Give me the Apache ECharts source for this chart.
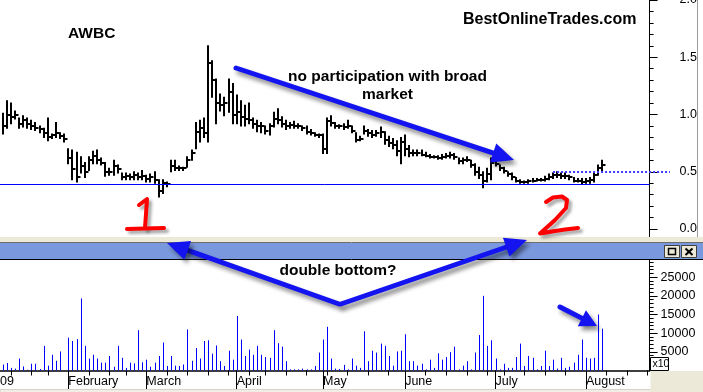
<!DOCTYPE html>
<html><head><meta charset="utf-8">
<script src="https://cdn.jsdelivr.net/npm/echarts@6/dist/echarts.min.js"></script>
<style>html,body{margin:0;padding:0;background:#fff;overflow:hidden}#c{width:703px;height:392px}</style>
</head><body><div id="c"></div>
<script>
const FONT = "'Liberation Sans', Arial, Helvetica, sans-serif";

// trading days of 2009 shown on the axis (Jan .. Aug)
const monthDays = [
  [2,5,6,7,8,9,12,13,14,15,16,20,21,22,23,26,27,28,29,30],
  [2,3,4,5,6,9,10,11,12,13,17,18,19,20,23,24,25,26,27],
  [2,3,4,5,6,9,10,11,12,13,16,17,18,19,20,23,24,25,26,27,30,31],
  [1,2,3,6,7,8,9,13,14,15,16,17,20,21,22,23,24,27,28,29,30],
  [1,4,5,6,7,8,11,12,13,14,15,18,19,20,21,22,26,27,28,29],
  [1,2,3,4,5,8,9,10,11,12,15,16,17,18,19,22,23,24,25,26,29,30],
  [1,2,6,7,8,9,10,13,14,15,16,17,20,21,22,23,24,27,28,29,30,31],
  [3,4,5,6,7,10,11,12,13,14,17,18,19,20,21,24]
];
const monthLabels = ['2009','February','March','April','May','June','July','August'];

const highs = [null,null,null,null,
 1.01,1.12,1.10,1.03,0.97,0.99,0.97,0.95,0.93,0.90,
 0.88,0.97,0.83,0.93,0.84,0.83,0.70,0.69,0.67,0.63,
 0.58,0.63,0.68,0.69,0.62,0.58,0.53,0.60,0.56,0.49,
 0.49,0.48,0.50,0.49,0.51,0.47,0.48,0.50,0.43,0.43,
 0.41,0.60,0.60,0.55,0.54,0.63,0.69,0.93,0.95,0.97,
 1.60,1.47,1.31,1.18,1.15,1.31,1.27,1.17,1.12,1.08,
 1.10,0.97,0.95,0.93,0.90,0.92,1.02,1.05,0.98,0.95,
 0.93,0.94,0.92,0.90,0.90,0.87,0.84,0.83,0.83,0.97,
 0.99,0.93,0.91,0.92,0.95,0.90,0.84,0.81,0.90,0.87,
 0.86,0.86,0.89,0.85,0.81,0.79,0.77,0.80,0.82,0.73,
 0.69,0.69,0.69,0.67,0.65,0.64,0.64,0.65,0.66,0.67,
 0.66,0.62,0.62,0.63,0.60,0.57,0.54,0.50,0.53,0.62,
 0.60,0.56,0.54,0.50,0.49,0.45,0.43,0.42,0.43,0.44,
 0.44,0.44,0.46,0.48,0.49,0.50,0.49,0.49,0.47,0.45,
 0.44,0.44,0.44,0.45,0.49,0.56,0.60];
const lows = [null,null,null,null,
 0.83,0.88,0.92,0.96,0.88,0.89,0.88,0.87,0.86,0.84,
 0.80,0.77,0.79,0.80,0.79,0.76,0.57,0.43,0.41,0.49,
 0.45,0.51,0.57,0.57,0.56,0.46,0.47,0.47,0.49,0.43,
 0.43,0.43,0.43,0.43,0.43,0.41,0.41,0.40,0.28,0.31,
 0.37,0.50,0.51,0.51,0.51,0.54,0.60,0.70,0.76,0.80,
 0.76,1.15,0.92,1.03,0.99,1.02,0.92,0.92,0.90,0.90,
 0.92,0.88,0.85,0.84,0.83,0.82,0.89,0.92,0.89,0.87,
 0.88,0.88,0.88,0.86,0.83,0.82,0.81,0.80,0.66,0.66,
 0.90,0.88,0.88,0.87,0.88,0.84,0.76,0.77,0.83,0.81,
 0.80,0.81,0.80,0.74,0.72,0.70,0.64,0.57,0.64,0.63,
 0.64,0.64,0.64,0.63,0.62,0.62,0.61,0.61,0.62,0.62,
 0.61,0.57,0.57,0.59,0.54,0.47,0.44,0.36,0.41,0.43,
 0.55,0.51,0.49,0.46,0.43,0.41,0.40,0.40,0.40,0.41,
 0.42,0.42,0.42,0.43,0.44,0.45,0.44,0.44,0.43,0.41,
 0.41,0.39,0.40,0.40,0.41,0.47,0.51];
const closes = [null,null,null,null,
 0.90,1.00,0.98,1.00,0.92,0.95,0.92,0.90,0.88,0.87,
 0.84,0.80,0.82,0.84,0.81,0.79,0.62,0.52,0.45,0.55,
 0.50,0.60,0.64,0.60,0.58,0.50,0.50,0.55,0.52,0.45,
 0.46,0.45,0.47,0.45,0.46,0.44,0.45,0.43,0.33,0.40,
 0.39,0.55,0.53,0.53,0.53,0.60,0.66,0.85,0.88,0.84,
 1.45,1.30,1.10,1.08,1.10,1.20,1.00,1.02,0.98,0.96,
 0.95,0.92,0.90,0.90,0.86,0.90,0.96,0.95,0.92,0.90,
 0.91,0.90,0.90,0.88,0.85,0.84,0.82,0.82,0.70,0.94,
 0.93,0.90,0.90,0.89,0.90,0.86,0.78,0.79,0.86,0.84,
 0.82,0.84,0.85,0.78,0.75,0.73,0.68,0.76,0.70,0.66,
 0.66,0.66,0.65,0.64,0.63,0.63,0.62,0.63,0.64,0.65,
 0.63,0.59,0.60,0.60,0.56,0.50,0.47,0.42,0.48,0.58,
 0.57,0.53,0.51,0.48,0.45,0.42,0.41,0.41,0.42,0.42,
 0.43,0.43,0.44,0.45,0.47,0.47,0.46,0.46,0.45,0.42,
 0.42,0.41,0.42,0.43,0.47,0.53,0.56];
const volumes = [null,null,null,null,
 1600,2000,700,500,3200,1100,200,1800,1800,400,
 6600,1300,4200,2600,5100,0,8800,7900,8400,19300,
 6600,3200,4200,3200,2100,2100,3900,1000,6600,3400,
 700,2100,1900,10800,2200,2900,1000,2100,3900,7500,
 1200,3900,1300,1200,1600,11000,2600,6000,3200,7900,
 8100,4500,6700,2500,1200,5300,2900,14600,8300,3900,
 5600,4200,6600,4200,3600,3400,10800,7300,6400,2500,
 300,300,300,500,300,300,1200,4800,8300,11700,
 3200,500,400,1500,300,3200,1300,700,10500,2500,
 5300,4800,7200,6600,3900,1300,5100,5300,9700,2500,
 2500,1300,1800,300,2900,700,4600,2900,3600,4900,
 6400,300,1300,2500,300,4800,9500,20000,6600,8100,
 3200,300,1800,700,700,3600,7200,1200,3900,3400,
 300,1200,5300,1200,2900,500,3400,700,1000,2100,
 4200,8300,3400,3200,3400,15000,11200];

const supportLevel = 0.39;     // solid horizontal line
const resistLevel = 0.5;       // dotted horizontal line
const resistStart = '2009-07-22';

const pad = n => (n < 10 ? '0' : '') + n;
const dates = [];
monthDays.forEach((days, m) => days.forEach(d => dates.push('2009-' + pad(m + 1) + '-' + pad(d))));
const dows = dates.map(d => new Date(d + 'T12:00:00').getDay());
const isWeekStart = i => i === 0 || dows[i] < dows[i - 1];
const isMonthStart = i => i === 0 || dates[i].slice(5, 7) !== dates[i - 1].slice(5, 7);

const priceData = [];
const volData = [];
dates.forEach((d, i) => {
  if (highs[i] != null) priceData.push([i, highs[i], lows[i], closes[i]]);
  if (volumes[i] != null) volData.push([i, volumes[i]]);
});

function renderOHLC(params, api) {
  const x = api.value(0);
  const hi = api.coord([x, api.value(1)]);
  const lo = api.coord([x, api.value(2)]);
  const cl = api.coord([x, api.value(3)]);
  const px = Math.round(hi[0]);
  const cy = Math.round(cl[1]);
  return { type: 'group', children: [
    { type: 'line', shape: { x1: px, y1: hi[1] - 0.5, x2: px, y2: lo[1] + 0.5 }, style: { stroke: '#000', lineWidth: 2 } },
    { type: 'line', shape: { x1: px, y1: cy, x2: px + 3.5, y2: cy }, style: { stroke: '#000', lineWidth: 2 } }
  ]};
}
function renderVol(params, api) {
  const x = api.value(0);
  const top = api.coord([x, api.value(1)]);
  const base = api.coord([x, 0]);
  const px = Math.round(top[0]) + 0.5;
  return { type: 'line', shape: { x1: px, y1: base[1], x2: px, y2: top[1] }, style: { stroke: '#0000FF', lineWidth: 1 } };
}

// ---------- annotation helpers ----------
const ARROW = '#1414F0';
const SH = { shadowBlur: 4, shadowOffsetX: 3, shadowOffsetY: 4, shadowColor: 'rgba(0,0,0,0.45)' };
function arrow(x1, y1, x2, y2, headLen, headHalf, w) {
  const dx = x2 - x1, dy = y2 - y1, L = Math.hypot(dx, dy);
  const ux = dx / L, uy = dy / L, nx = -uy, ny = ux;
  const bx = x2 - ux * headLen, by = y2 - uy * headLen;
  return [
    { type: 'line', z: 100, shape: { x1: x1, y1: y1, x2: bx + ux * 2, y2: by + uy * 2 },
      style: Object.assign({ stroke: ARROW, lineWidth: w, lineCap: 'round' }, SH) },
    { type: 'polygon', z: 100, shape: { points: [[x2, y2], [bx + nx * headHalf, by + ny * headHalf], [bx - nx * headHalf, by - ny * headHalf]] },
      style: Object.assign({ fill: ARROW }, SH) }
  ];
}
function txt(x, y, s, size, align) {
  return { type: 'text', z: 110, x: x, y: y,
    style: { text: s, fontSize: size, fontWeight: 'bold', fontFamily: FONT, fill: '#000',
      textAlign: align || 'center', textVerticalAlign: 'middle', align: align || 'center', verticalAlign: 'middle' } };
}
const RED = { stroke: '#FF0000', lineWidth: 4, lineCap: 'round', lineJoin: 'round', fill: null,
  shadowBlur: 3, shadowOffsetX: 3, shadowOffsetY: 3, shadowColor: 'rgba(0,0,0,0.35)' };

const graphics = [].concat(
  [
    // window frame between panels
    { type: 'rect', z: 90, shape: { x: 0, y: 237, width: 703, height: 6 }, style: { fill: '#ECE9D8' } },
    { type: 'line', z: 90, shape: { x1: 0, y1: 242.5, x2: 703, y2: 242.5 }, style: { stroke: '#6E6E6E', lineWidth: 1 } },
    { type: 'rect', z: 90, shape: { x: 0, y: 243, width: 703, height: 16 }, style: { fill: '#7A98DD' } },
    { type: 'line', z: 90, shape: { x1: 0, y1: 259.5, x2: 703, y2: 259.5 }, style: { stroke: '#000', lineWidth: 1 } },
    // title-bar buttons
    { type: 'rect', z: 91, shape: { x: 664.5, y: 245.5, width: 15, height: 12 }, style: { fill: '#ECE9D8', stroke: '#404040', lineWidth: 1 } },
    { type: 'rect', z: 92, shape: { x: 668.5, y: 248.5, width: 7, height: 6 }, style: { fill: null, stroke: '#000', lineWidth: 1.5 } },
    { type: 'rect', z: 91, shape: { x: 681.5, y: 245.5, width: 15, height: 12 }, style: { fill: '#ECE9D8', stroke: '#404040', lineWidth: 1 } },
    { type: 'line', z: 92, shape: { x1: 685.5, y1: 248.5, x2: 692.5, y2: 255 }, style: { stroke: '#000', lineWidth: 2 } },
    { type: 'line', z: 92, shape: { x1: 692.5, y1: 248.5, x2: 685.5, y2: 255 }, style: { stroke: '#000', lineWidth: 2 } },
    // right edge of upper panel
    { type: 'line', z: 90, shape: { x1: 697.5, y1: 0, x2: 697.5, y2: 237 }, style: { stroke: '#9A9A9A', lineWidth: 1 } },
    // price axis continues below 0.0
    { type: 'line', z: 90, shape: { x1: 649.5, y1: 229, x2: 649.5, y2: 237 }, style: { stroke: '#000', lineWidth: 1 } },
    // lower-right corner and bottom strip
    { type: 'rect', z: 90, shape: { x: 650.5, y: 371, width: 53, height: 21 }, style: { fill: '#ECE9D8' } },
    { type: 'rect', z: 89, shape: { x: 0, y: 389.5, width: 703, height: 3 }, style: { fill: '#F0EEE6', stroke: '#D6D2C6', lineWidth: 1 } },
    { type: 'rect', z: 91, shape: { x: 650.5, y: 357.5, width: 18, height: 13 }, style: { fill: '#fff', stroke: '#000', lineWidth: 1 } },
    { type: 'text', z: 92, x: 652.5, y: 364.5, style: { text: 'x10', fontSize: 10.5, fontFamily: FONT, fill: '#000',
      textAlign: 'left', textVerticalAlign: 'middle', align: 'left', verticalAlign: 'middle' } },
    // texts
    txt(68, 34, 'AWBC', 15.5, 'left'),
    txt(463, 19.5, 'BestOnlineTrades.com', 16, 'left'),
    txt(387.5, 77, 'no participation with broad', 15.5),
    txt(387.5, 94.5, 'market', 15.5),
    txt(338, 270.5, 'double bottom?', 15.5),
    // red hand-drawn 1 and 2
    { type: 'polyline', z: 100, shape: { points: [[139, 205], [147, 199], [146, 214], [145, 228]] }, style: RED },
    { type: 'polyline', z: 100, shape: { points: [[127, 229], [145, 228.5], [164, 228]] }, style: RED },
    { type: 'polyline', z: 100, shape: { points: [[546, 202], [553, 197.5], [562, 196.5], [567, 200], [566, 208], [555, 220], [540, 233.5], [552, 231.5], [565, 229.5], [578, 228]] }, style: RED }
  ],
  arrow(236, 68, 514, 160, 22, 10, 5),
  arrow(339, 304, 167, 243, 22, 10, 5),
  arrow(341, 304, 527, 240, 22, 10, 5),
  arrow(560, 307, 597, 326, 17, 9, 5)
);

const axisBlack = { color: '#000', width: 1 };
const chart = echarts.init(document.getElementById('c'), null, { renderer: 'canvas' });
chart.setOption({
  animation: false,
  backgroundColor: '#fff',
  textStyle: { fontFamily: FONT },
  grid: [
    { left: -15.9, width: 665.5, top: 0, height: 229, containLabel: false, outerBoundsMode: 'none' },
    { left: -15.9, width: 665.5, top: 258.5, height: 112, containLabel: false, outerBoundsMode: 'none' },
    { left: -15.9, width: 665.5, top: 258.5, height: 112, containLabel: false, outerBoundsMode: 'none' }
  ],
  xAxis: [
    { type: 'category', gridIndex: 0, data: dates, boundaryGap: true, show: false },
    { type: 'category', gridIndex: 1, data: dates, boundaryGap: true, position: 'bottom',
      axisLine: { show: true, lineStyle: { color: '#000', width: 1.5 } },
      axisTick: { show: true, alignWithLabel: true, interval: i => isWeekStart(i), length: 5, lineStyle: axisBlack },
      axisLabel: { show: false }, splitLine: { show: false } },
    { type: 'category', gridIndex: 2, data: dates, boundaryGap: true, position: 'bottom',
      axisLine: { show: false },
      axisTick: { show: true, alignWithLabel: true, interval: i => isMonthStart(i), length: 19, lineStyle: axisBlack },
      axisLabel: { show: true, interval: i => isMonthStart(i), formatter: v => monthLabels[+v.slice(5, 7) - 1],
        align: 'left', margin: 5, fontSize: 12.5, color: '#000', fontFamily: FONT },
      splitLine: { show: false } }
  ],
  yAxis: [
    { type: 'value', gridIndex: 0, position: 'right', min: 0, max: 2, interval: 0.5,
      axisLine: { show: true, lineStyle: axisBlack },
      axisTick: { show: true, length: 8, lineStyle: axisBlack },
      minorTick: { show: true, splitNumber: 5, length: 4, lineStyle: axisBlack },
      splitLine: { show: false }, minorSplitLine: { show: false },
      axisLabel: { margin: 30, formatter: v => v.toFixed(1), color: '#000', fontSize: 12.5, fontFamily: FONT } },
    { type: 'value', gridIndex: 1, position: 'right', min: 0, max: 30000, interval: 5000,
      axisLine: { show: true, lineStyle: axisBlack },
      axisTick: { show: true, length: 8, lineStyle: axisBlack },
      minorTick: { show: true, splitNumber: 5, length: 4, lineStyle: axisBlack },
      splitLine: { show: false }, minorSplitLine: { show: false },
      axisLabel: { margin: 11, showMinLabel: false, showMaxLabel: false, formatter: v => String(v),
        color: '#000', fontSize: 12.5, fontFamily: FONT } },
    { type: 'value', gridIndex: 2, show: false }
  ],
  series: [
    { type: 'custom', name: 'AWBC', xAxisIndex: 0, yAxisIndex: 0, data: priceData, renderItem: renderOHLC,
      encode: { x: 0, y: [1, 2, 3] }, silent: true,
      markLine: { silent: true, symbol: ['none', 'none'], label: { show: false }, animation: false,
        lineStyle: { color: '#0000FF', width: 1, type: 'solid' },
        emphasis: { disabled: true },
        data: [
          { yAxis: supportLevel, lineStyle: { color: '#0000FF', width: 1, type: 'solid' } },
          [ { coord: [resistStart, resistLevel], lineStyle: { color: '#3C3CFF', width: 2, type: [2, 2] } },
            { coord: [dates[dates.length - 1], resistLevel], x: 670, lineStyle: { color: '#3C3CFF', width: 2, type: [2, 2] } } ]
        ] } },
    { type: 'custom', name: 'Volume', xAxisIndex: 1, yAxisIndex: 1, data: volData, renderItem: renderVol,
      encode: { x: 0, y: 1 }, silent: true }
  ],
  graphic: graphics
});
</script>
</body></html>
